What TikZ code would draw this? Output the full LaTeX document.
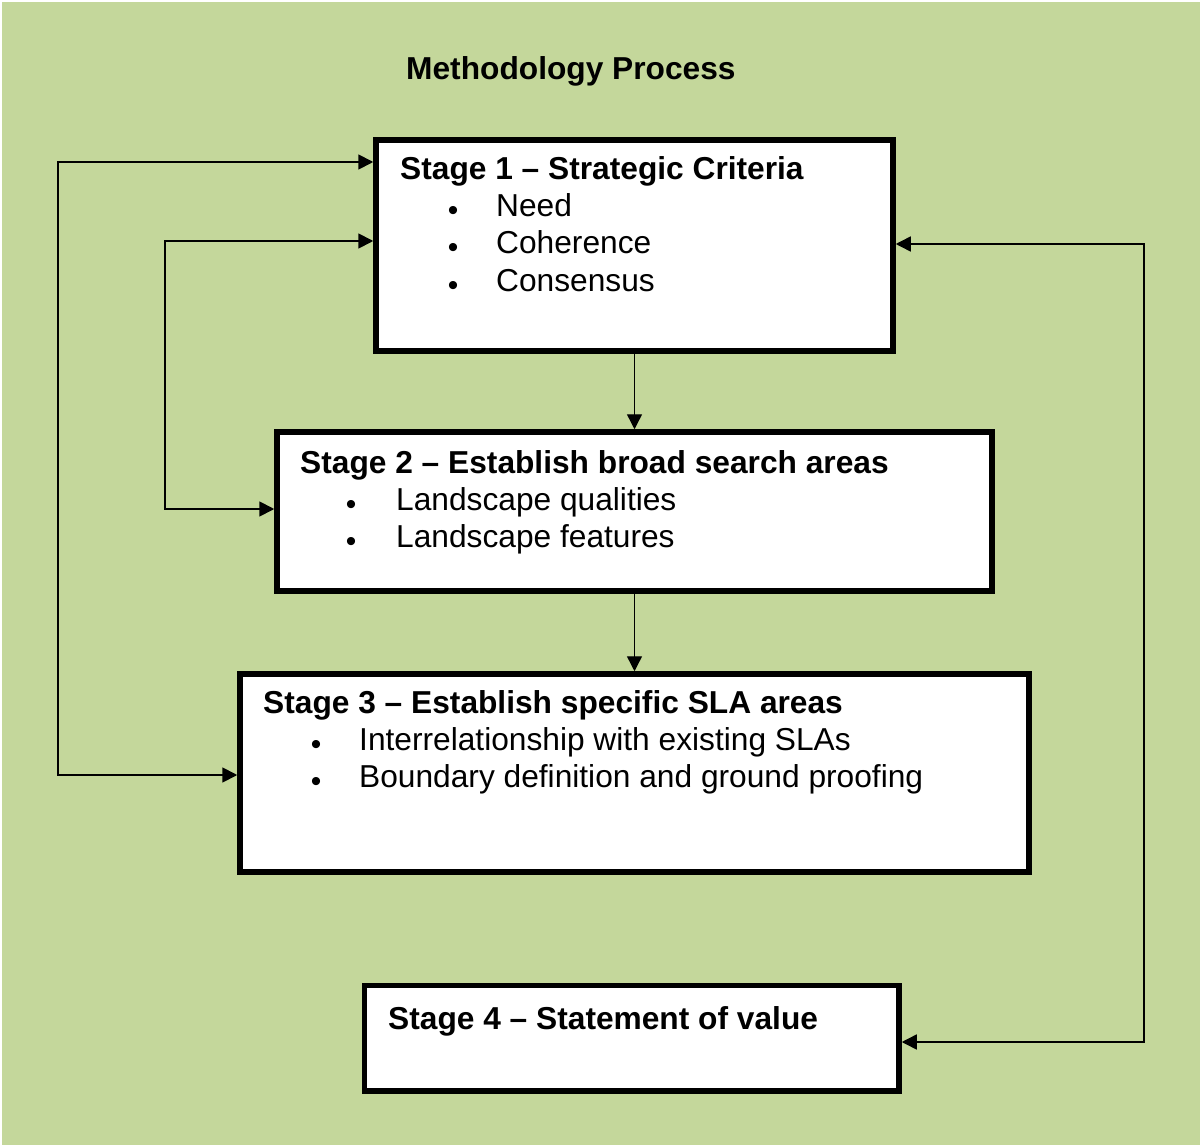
\documentclass[tikz,border=0pt]{standalone}
\usepackage{fontspec}
\setmainfont{Liberation Sans}
\usetikzlibrary{arrows.meta}
\definecolor{bggreen}{HTML}{C4D79B}
\begin{document}
\begin{tikzpicture}[x=1pt,y=-1pt,
  stagebox/.style={draw=black, fill=white, line width=5.5pt, rectangle, inner sep=0pt},
  txt/.style={anchor=base west, inner sep=0pt, font=\fontsize{31.7}{38}\selectfont},
  hd/.style={txt, font=\fontsize{31.7}{38}\selectfont\bfseries},
  bul/.style={anchor=base, inner sep=0pt, yshift=-4pt, font=\fontsize{30}{34}\selectfont},
  tip/.tip={Triangle[length=15pt,width=15pt]},
  conn/.style={line width=1.8pt, tip-tip},
  down/.style={line width=1.4pt, -tip}
]
\useasboundingbox (0,0) rectangle (1202,1147);
\fill[white] (0,0) rectangle (1202,1147);
\fill[bggreen] (2,2) rectangle (1200,1145);

% title
\node[hd] (title) at (406,80) {Methodology Process};

% boxes
\node[stagebox, minimum width=517pt, minimum height=211pt] (b1) at (634.5,245.5) {};
\node[stagebox, minimum width=715pt, minimum height=159pt] (b2) at (634.5,511.5) {};
\node[stagebox, minimum width=789pt, minimum height=198pt] (b3) at (634.5,773) {};
\node[stagebox, minimum width=534.5pt, minimum height=105.5pt] (b4) at (631.75,1038.25) {};

% stage 1 text
\node[hd] (h1) at (400,180) {Stage 1 – Strategic Criteria};
\node[bul] (p11) at (453,217) {•};
\node[txt] (t11) at (496,217) {Need};
\node[bul] (p12) at (453,254) {•};
\node[txt] (t12) at (496,254) {Coherence};
\node[bul] (p13) at (453,292) {•};
\node[txt] (t13) at (496,292) {Consensus};

% stage 2 text
\node[hd] (h2) at (300,473) {Stage 2 – Establish broad search areas};
\node[bul] (p21) at (351,510) {•};
\node[txt] (t21) at (396,510) {Landscape qualities};
\node[bul] (p22) at (351,547) {•};
\node[txt] (t22) at (396,547) {Landscape features};

% stage 3 text
\node[hd] (h3) at (263,713) {Stage 3 – Establish specific SLA areas};
\node[bul] (p31) at (316,750) {•};
\node[txt] (t31) at (359,750) {Interrelationship with existing SLAs};
\node[bul] (p32) at (316,787) {•};
\node[txt] (t32) at (359,787) {Boundary definition and ground proofing};

% stage 4 text
\node[hd] (h4) at (388,1029) {Stage 4 – Statement of value};

% loop coordinates
\coordinate (la) at (58,162);
\coordinate (lb) at (58,775);
\coordinate (ma) at (165,241);
\coordinate (mb) at (165,509);
\coordinate (ra) at (1144,244);
\coordinate (rb) at (1144,1042);

% connectors
\draw[conn] (b3.west |- lb) -- (lb) -- (la) -- (b1.west |- la);
\draw[conn] (b2.west |- mb) -- (mb) -- (ma) -- (b1.west |- ma);
\draw[conn, line width=1.5pt] (b1.east |- ra) -- (ra) -- (rb) -- (b4.east |- rb);
\draw[down] (b1.south) -- (b2.north);
\draw[down] (b2.south) -- (b3.north);
\end{tikzpicture}
\end{document}
